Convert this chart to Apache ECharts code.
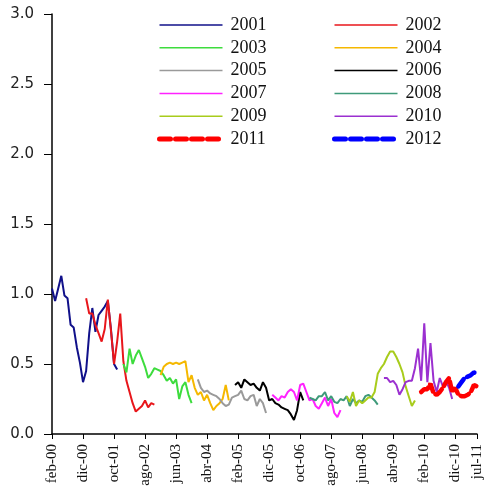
<!DOCTYPE html>
<html>
<head>
<meta charset="utf-8">
<script src="https://cdn.jsdelivr.net/npm/echarts@6/dist/echarts.min.js"></script>
<style>
html,body{margin:0;padding:0;background:#fff;}
#c{width:490px;height:503px;}
</style>
</head>
<body>
<div id="c"></div>
<script>
// Monthly category axis: feb-00 .. jul-11
const monthNames = ['ene','feb','mar','abr','may','jun','jul','ago','sep','oct','nov','dic'];
const categories = [];
for (let k = 1; k <= 138; k++) {
  const m = k % 12, y = Math.floor(k / 12);
  categories.push(monthNames[m] + '-' + String(y).padStart(2, '0'));
}
const yTicks = [0, 0.5, 1.0, 1.5, 2.0, 2.5, 3.0];

// Series (forecast year) names, first month of each path, and monthly values
const seriesNames = ['2001','2002','2003','2004','2005','2006','2007','2008','2009','2010','2011','2012'];
const startMonths = ['feb-00','ene-01','ene-02','ene-03','ene-04','ene-05','ene-06','ene-07','ene-08','ene-09','ene-10','ene-11'];

const v2001 = [1.04,0.95,1.04,1.13,0.99,0.97,0.78,0.76,0.62,0.51,0.37,0.45,0.72,0.9,0.73,0.85,0.88,0.91,0.95,0.75,0.5,0.46];
const v2002 = [0.97,0.86,0.86,0.78,0.72,0.66,0.75,0.96,0.74,0.5,0.66,0.86,0.52,0.38,0.3,0.22,0.16,0.18,0.2,0.24,0.19,0.22,0.21];
const v2003 = [0.5,0.44,0.61,0.5,0.56,0.6,0.54,0.48,0.4,0.43,0.47,0.46,0.45,0.42,0.38,0.4,0.36,0.39,0.25,0.34,0.37,0.28,0.22];
const v2004 = [0.42,0.48,0.5,0.51,0.5,0.51,0.5,0.51,0.52,0.37,0.42,0.33,0.28,0.3,0.24,0.28,0.22,0.17,0.2,0.22,0.25,0.35,0.24];
const v2005 = [0.39,0.33,0.3,0.31,0.29,0.28,0.27,0.25,0.22,0.2,0.21,0.26,0.27,0.28,0.31,0.25,0.24,0.27,0.28,0.2,0.25,0.22,0.15];
const v2006 = [0.35,0.37,0.33,0.39,0.37,0.35,0.36,0.33,0.31,0.37,0.33,0.24,0.25,0.22,0.21,0.19,0.18,0.17,0.14,0.1,0.17,0.3,0.24];
const v2007 = [0.28,0.26,0.24,0.27,0.26,0.3,0.32,0.3,0.24,0.35,0.36,0.3,0.24,0.25,0.2,0.18,0.22,0.26,0.2,0.25,0.15,0.12,0.17];
const v2008 = [0.26,0.25,0.24,0.27,0.27,0.3,0.24,0.27,0.23,0.22,0.25,0.24,0.27,0.2,0.25,0.22,0.24,0.23,0.27,0.28,0.26,0.24,0.21];
const v2009 = [0.27,0.23,0.3,0.2,0.24,0.22,0.24,0.26,0.26,0.3,0.43,0.47,0.5,0.55,0.59,0.59,0.55,0.5,0.44,0.34,0.27,0.2,0.24];
const v2010 = [0.4,0.4,0.37,0.38,0.35,0.28,0.32,0.37,0.38,0.38,0.47,0.61,0.38,0.79,0.37,0.65,0.38,0.3,0.4,0.34,0.38,0.33,0.25];
const v2011 = [0.3,0.32,0.32,0.36,0.29,0.28,0.3,0.33,0.37,0.4,0.3,0.33,0.28,0.27,0.27,0.28,0.3,0.35,0.34];
const v2012 = [0.34,0.37,0.4,0.41,0.42,0.44,0.43];

const seriesValues = [v2001,v2002,v2003,v2004,v2005,v2006,v2007,v2008,v2009,v2010,v2011,v2012];
const colors = ['#10108a','#e8161b','#3ddc3d','#f5b800','#9a9a9a','#000000','#ff22ff','#3f9a7a','#a8cc1c','#9b30d0','#ff0000','#0000ff'];

const series = seriesNames.map((name, s) => {
  const st = categories.indexOf(startMonths[s]);
  const dashed = s >= 10;
  return {
    name: name,
    type: 'line',
    symbol: 'none',
    animation: false,
    data: seriesValues[s].map((v, k) => [categories[st + k], v]),
    lineStyle: dashed
      ? { color: colors[s], width: 4.5, type: [9, 4], cap: 'round' }
      : { color: colors[s], width: 2 },
    itemStyle: { color: colors[s] },
    emphasis: { disabled: true }
  };
});

const legendItem = (name, i) => {
  const dashed = i >= 10;
  return {
    name: name,
    itemStyle: { opacity: 0 },
    lineStyle: dashed
      ? { color: colors[i], width: 5, type: [11, 5], cap: 'round' }
      : { color: colors[i], width: 1.5, type: 'solid' }
  };
};

const legendCommon = {
  orient: 'vertical',
  top: 16,
  padding: 0,
  itemWidth: 63,
  itemHeight: 12,
  itemGap: 4.8,
  selectedMode: false,
  itemStyle: { opacity: 0 },
  textStyle: { fontFamily: 'Liberation Serif', fontSize: 18, color: '#111', padding: [0,0,0,3] }
};

const lastIdx = categories.length - 1;
const showIdx = (i) => i % 10 === 0 || i === lastIdx;

const chart = echarts.init(document.getElementById('c'), null, { renderer: 'canvas' });
chart.setOption({
  animation: false,
  backgroundColor: '#fff',
  grid: { left: 52, right: 13, top: 14, bottom: 69 },
  legend: [
    Object.assign({}, legendCommon, { left: 157, data: seriesNames.map(legendItem).filter((n, i) => i % 2 === 0) }),
    Object.assign({}, legendCommon, { left: 332, data: seriesNames.map(legendItem).filter((n, i) => i % 2 === 1) })
  ],
  xAxis: {
    type: 'category',
    data: categories,
    boundaryGap: false,
    axisLine: { lineStyle: { color: '#000', width: 1.5 } },
    axisTick: { show: true, length: 5, interval: (i) => showIdx(i), lineStyle: { color: '#000' } },
    axisLabel: {
      interval: (i) => showIdx(i),
      rotate: 90,
      margin: 10,
      fontFamily: 'Liberation Serif',
      fontSize: 15,
      color: '#111'
    },
    splitLine: { show: false }
  },
  yAxis: {
    type: 'value',
    min: yTicks[0],
    max: yTicks[yTicks.length - 1],
    interval: 0.5,
    axisLine: { show: true, lineStyle: { color: '#000', width: 1.5 } },
    axisTick: { show: true, length: 8, lineStyle: { color: '#000' } },
    axisLabel: {
      margin: 18,
      fontFamily: 'DejaVu Sans',
      fontSize: 15,
      color: '#222',
      formatter: (v) => v.toFixed(1)
    },
    splitLine: { show: false }
  },
  series: series
});
</script>
</body>
</html>
